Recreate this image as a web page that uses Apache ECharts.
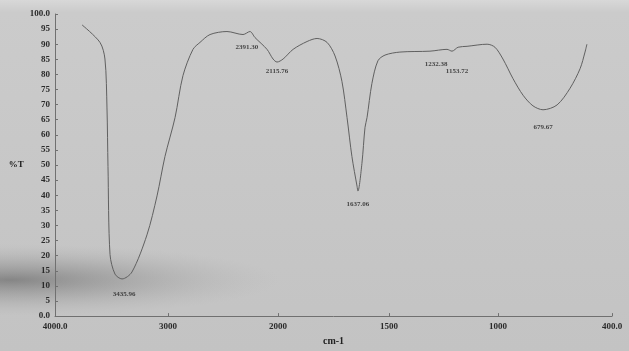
<!DOCTYPE html>
<html>
<head>
<meta charset="utf-8">
<script src="https://cdn.jsdelivr.net/npm/echarts@6/dist/echarts.min.js"></script>
<style>html,body{margin:0;padding:0;background:#c6c6c6}#c{width:629px;height:351px}</style>
</head>
<body>
<div id="c"></div>
<script>
// Spectrum trace: wavenumber (cm-1) and transmittance (%T)
const wavenumbers = [3761,3602,3558,3540,3531,3513,3469,3407,3319,3186,3097,3027,2936,2864,2773,2709,2618,2464,2318,2255,2209,2100,2045,2009,1977,1932,1869,1824,1779,1743,1712,1689,1667,1644,1640,1622,1608,1599,1577,1550,1518,1450,1312,1234,1211,1183,1142,1050,1014,974,921,868,816,763,689,621,568,542,532];
const transmittance = [96.4,90.6,85.1,68.9,49.5,20.4,13.9,12.3,14.6,26.9,39.8,52.8,65.7,79.6,88.3,90.6,93.2,94.2,93.2,94.2,92.2,88.3,85.1,84.1,85.1,88.3,90.9,91.9,90.6,86.1,77.7,65.7,52.8,43.0,41.4,50.5,62.5,65.7,77.0,84.5,86.4,87.4,87.7,88.3,87.7,89.0,89.3,90.0,89.0,85.1,78.6,73.1,69.6,68.3,69.9,75.4,81.9,87.4,90.0];

// Peak annotations (text, wavenumber, %T where the text sits)
const peakTexts = ["3435.96","2391.30","2115.76","1637.06","1232.38","1153.72","679.67"];
const peakWn    = [3389,2282,2009,1640,1284,1188,763];
const peakT     = [7.4,89.0,81.2,37.2,83.5,81.2,62.5];

// Axis ticks
const xTickLabels = ["4000.0","3000","2000","1500","1000","400.0"];
const xTickValues = [4000,3000,2000,1500,1000,400];
const yTickValues = [0,5,10,15,20,25,30,35,40,45,50,55,60,65,70,75,80,85,90,95,100];
const yTickLabels = ["0.0","5","10","15","20","25","30","35","40","45","50","55","60","65","70","75","80","85","90","95","100.0"];

// Piecewise (split-scale) x axis: relative axis units at each tick wavenumber
const scaleUnits = [0,113,223,334,443,557];
function toAxis(w){
  for(let i=0;i<xTickValues.length-1;i++){
    const a=xTickValues[i], b=xTickValues[i+1];
    if(w<=a && w>=b){
      return scaleUnits[i] + (a-w)/(a-b)*(scaleUnits[i+1]-scaleUnits[i]);
    }
  }
  return w>xTickValues[0]?0:scaleUnits[scaleUnits.length-1];
}

const lineData = wavenumbers.map((w,i)=>[toAxis(w), transmittance[i]]);
const peakData = peakTexts.map((t,i)=>({value:[toAxis(peakWn[i]), peakT[i]], label:{formatter:t}}));
const xCustom = xTickValues.map(toAxis);

const fontFam = '"Liberation Serif","DejaVu Serif",serif';
const chart = echarts.init(document.getElementById('c'));
chart.setOption({
  animation:false,
  backgroundColor:{type:'linear',x:0,y:0,x2:0,y2:1,colorStops:[
    {offset:0,color:'#d8d8d8'},{offset:0.035,color:'#cbcbcb'},{offset:1,color:'#c3c3c3'}]},
  graphic:[
    {type:'circle',silent:true,z:-1,x:10,y:280,scaleX:6,scaleY:0.8,shape:{cx:0,cy:0,r:45},
     style:{fill:{type:'radial',x:0.5,y:0.5,r:0.5,colorStops:[
       {offset:0,color:'rgba(70,70,70,0.5)'},{offset:0.5,color:'rgba(110,110,110,0.25)'},{offset:1,color:'rgba(160,160,160,0)'}]}}}
  ],
  grid:{left:55,right:17,top:14,bottom:28,containLabel:false},
  xAxis:{
    type:'value',min:0,max:scaleUnits[scaleUnits.length-1],
    name:'cm-1',nameLocation:'middle',nameGap:18,
    nameTextStyle:{fontFamily:fontFam,fontSize:10,color:'#222',fontWeight:'bold'},
    axisLine:{lineStyle:{color:'#707070',width:1}},
    axisTick:{show:true,customValues:xCustom,length:3,inside:true,lineStyle:{color:'#707070'}},
    splitLine:{show:false},
    axisLabel:{customValues:xCustom,margin:6,fontFamily:fontFam,fontSize:9,fontWeight:'bold',color:'#2a2a2a',
      formatter:function(v){
        let best=0,bd=1e9;
        xCustom.forEach((c,i)=>{const d=Math.abs(c-v); if(d<bd){bd=d;best=i;}});
        return xTickLabels[best];
      }}
  },
  yAxis:{
    type:'value',min:0,max:100,interval:5,
    name:'%T',nameLocation:'middle',nameGap:14,nameRotate:0,
    nameTextStyle:{fontFamily:fontFam,fontSize:9,color:'#222',fontWeight:'bold'},
    axisLine:{show:true,lineStyle:{color:'#707070',width:1}},
    axisTick:{show:true,length:3,inside:true,lineStyle:{color:'#707070'}},
    splitLine:{show:false},
    axisLabel:{margin:5,fontFamily:fontFam,fontSize:9,fontWeight:'bold',color:'#2a2a2a',
      formatter:function(v){const i=yTickValues.indexOf(v);return i>=0?yTickLabels[i]:'';}}
  },
  series:[
    {type:'line',data:lineData,smooth:0.3,showSymbol:false,
     lineStyle:{color:'#606060',width:1}},
    {type:'scatter',data:peakData,symbolSize:0,
     label:{show:true,position:'inside',fontFamily:fontFam,fontSize:7,fontWeight:'bold',color:'#222'}}
  ]
});
</script>
</body>
</html>
